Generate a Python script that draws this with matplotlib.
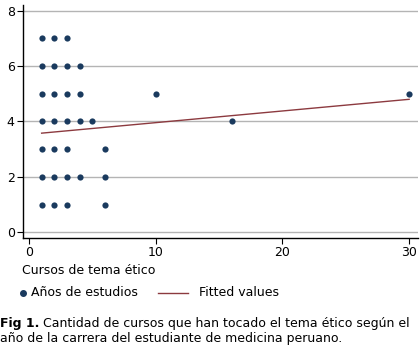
import numpy as np
import matplotlib
matplotlib.use("Agg")
import matplotlib.pyplot as plt
from matplotlib.lines import Line2D

# data
cursos = [1, 1, 1, 1, 1, 1, 1,
          2, 2, 2, 2, 2, 2, 2,
          3, 3, 3, 3, 3, 3, 3,
          4, 4, 4, 4,
          5,
          6, 6, 6,
          10, 16, 30]
anios = [1, 2, 3, 4, 5, 6, 7,
         1, 2, 3, 4, 5, 6, 7,
         1, 2, 3, 4, 5, 6, 7,
         2, 4, 5, 6,
         4,
         1, 2, 3,
         5, 4, 5]
fit_x = [1, 30]
fit_y = [3.58, 4.80]
yticks = [0, 2, 4, 6, 8]
xticks = [0, 10, 20, 30]

dot_col = "#1a3a5e"
line_col = "#8c3a3f"
fs = 9

plt.rcParams['font.family'] = ['DejaVu Sans']

W, H = 420, 348
fig = plt.figure(figsize=(4.2, 3.48), dpi=100)
ax = fig.add_axes([23 / W, 110 / H, 395 / W, 233 / H])


def fx(px):
    return px / W


def fy(py):
    return 1 - py / H


for y in yticks:
    ax.axhline(y, color="#b4b4b4", lw=1.0, zorder=0)

ax.scatter(cursos, anios, s=20, color=dot_col, zorder=3, linewidths=0)
ax.plot(fit_x, fit_y, color=line_col, lw=1.0, zorder=2)

ax.set_xlim(-0.47, 30.7)
ax.set_ylim(-0.2, 8.2)
ax.set_xticks(xticks)
ax.set_yticks(yticks)
ax.tick_params(labelsize=fs, length=4, width=0.8, color="black", pad=2)
for s in ["top", "right"]:
    ax.spines[s].set_visible(False)
for s in ["left", "bottom"]:
    ax.spines[s].set_linewidth(1.0)

fig.text(fx(22), fy(270), "Cursos de tema ético", fontsize=fs,
         va="center", ha="left")

# legend row, laid out by hand
fig.add_artist(Line2D([fx(23)], [fy(293)], ls="none", marker="o", ms=4.0,
                      color=dot_col, transform=fig.transFigure))
fig.text(fx(31), fy(293), "Años de estudios", fontsize=fs,
         va="center", ha="left")
fig.add_artist(Line2D([fx(158), fx(188)], [fy(293), fy(293)], lw=1.0,
                      color=line_col, transform=fig.transFigure))
fig.text(fx(199), fy(293), "Fitted values", fontsize=fs,
         va="center", ha="left")

# caption
t1 = fig.text(0.0, fy(327), "Fig 1.", fontsize=fs, fontweight="bold",
              va="baseline", ha="left")
ax.annotate(" Cantidad de cursos que han tocado el tema ético según el",
            xy=(1, 0), xycoords=t1, va="bottom", ha="left", fontsize=fs,
            annotation_clip=False)
fig.text(0.0, fy(342),
         "año de la carrera del estudiante de medicina peruano.",
         fontsize=fs, va="baseline", ha="left")

fig.savefig("out.png", dpi=100)
